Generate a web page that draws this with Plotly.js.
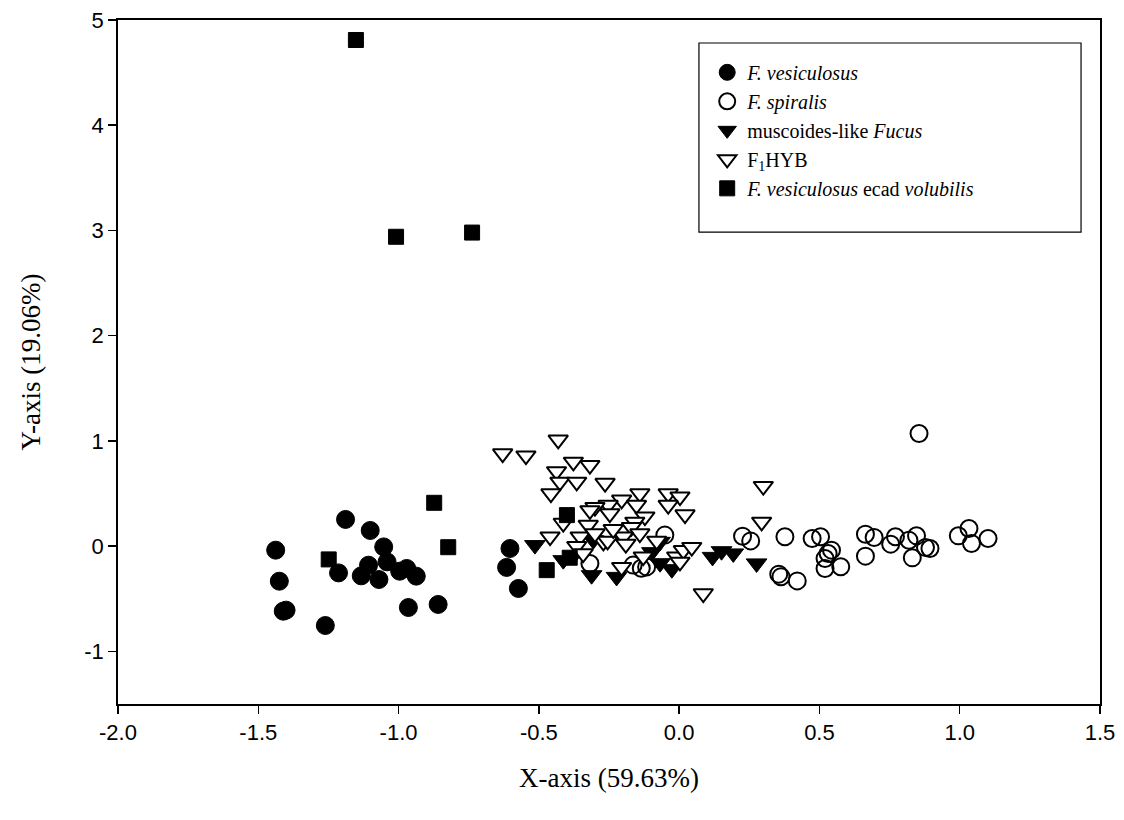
<!DOCTYPE html>
<html>
<head>
<meta charset="utf-8">
<script src="https://cdn.plot.ly/plotly-3.0.1.min.js"></script>
<style>html,body{margin:0;padding:0;background:#fff;}#chart{width:1124px;height:820px;}</style>
</head>
<body>
<div id="chart"></div>
<script>
// F. vesiculosus (filled circles)
const vesX = [-1.438,-1.425,-1.411,-1.401,-1.261,-1.189,-1.214,-1.101,-1.053,-1.041,-1.107,-1.133,-1.070,-0.996,-0.971,-0.937,-0.965,-0.859,-0.603,-0.615,-0.573];
const vesY = [-0.038,-0.333,-0.618,-0.608,-0.754,0.254,-0.254,0.149,-0.007,-0.149,-0.181,-0.282,-0.317,-0.238,-0.212,-0.285,-0.583,-0.554,-0.022,-0.202,-0.402];

// F. spiralis (open circles)
const spiX = [0.855,0.226,0.255,0.377,0.474,0.504,0.543,0.531,0.520,0.520,0.576,0.355,0.363,0.421,0.664,0.695,0.664,0.754,0.771,0.819,0.846,0.878,0.894,0.831,0.995,1.033,1.042,1.101,-0.051,-0.164,-0.116,-0.318,-0.135];
const spiY = [1.07,0.095,0.05,0.089,0.073,0.089,-0.038,-0.07,-0.117,-0.212,-0.196,-0.266,-0.29,-0.33,0.114,0.083,-0.095,0.019,0.089,0.057,0.098,-0.012,-0.022,-0.111,0.098,0.168,0.026,0.073,0.105,-0.18,-0.197,-0.165,-0.21];

// muscoides-like Fucus (filled down triangles)
const musX = [-0.514,-0.413,-0.378,-0.312,-0.223,-0.306,-0.068,-0.097,-0.068,-0.026,0.119,0.151,0.193,0.276];
const musY = [0.010,-0.133,-0.095,-0.276,-0.292,0.057,0.041,-0.057,-0.162,-0.219,-0.102,-0.048,-0.069,-0.164];

// F1HYB (open down triangles)
const hybX = [-0.431,-0.629,-0.546,-0.377,-0.318,-0.437,-0.425,-0.365,-0.457,-0.264,-0.14,-0.039,0.003,-0.205,-0.253,-0.152,-0.039,-0.247,-0.122,0.021,-0.158,-0.46,-0.413,-0.353,-0.365,-0.324,-0.30,-0.318,-0.17,-0.14,-0.199,-0.27,-0.342,-0.205,-0.128,-0.009,0.015,0.045,0.003,0.086,0.30,0.294,-0.255,-0.19,-0.235,-0.30,-0.08];
const hybY = [1.01,0.88,0.86,0.80,0.77,0.71,0.61,0.61,0.50,0.60,0.50,0.50,0.47,0.44,0.39,0.39,0.39,0.31,0.28,0.30,0.23,0.09,0.22,0.09,0.00,0.20,0.37,0.34,0.18,0.12,0.09,0.04,-0.07,-0.20,-0.10,-0.10,-0.04,-0.01,-0.15,-0.45,0.57,0.23,0.05,0.02,0.16,0.12,0.05];

// F. vesiculosus ecad volubilis (filled squares)
const volX = [-1.152,-1.009,-0.738,-1.249,-0.873,-0.823,-0.472,-0.400,-0.390];
const volY = [4.81,2.94,2.98,-0.126,0.412,-0.010,-0.228,0.295,-0.11];

const xTickVals = [-2.0,-1.5,-1.0,-0.5,0.0,0.5,1.0,1.5];
const xTickText = ["-2.0","-1.5","-1.0","-0.5","0.0","0.5","1.0","1.5"];
const yTickVals = [-1,0,1,2,3,4,5];
const yTickText = ["-1","0","1","2","3","4","5"];

const SERIF = "'Liberation Serif', 'Times New Roman', serif";
const SANS = "'Liberation Sans', Arial, sans-serif";

const traces = [
  {x: vesX, y: vesY, name: "<i>F. vesiculosus</i>", mode: "markers", type: "scatter",
   marker: {symbol: "circle", size: 18, color: "#000", line: {color: "#000", width: 1}}},
  {x: spiX, y: spiY, name: "<i>F. spiralis</i>", mode: "markers", type: "scatter",
   marker: {symbol: "circle-open", size: 17, color: "#000", line: {color: "#000", width: 2}}},
  {x: musX, y: musY, name: "muscoides-like <i>Fucus</i>", mode: "markers", type: "scatter",
   marker: {symbol: "triangle-down", size: 18, color: "#000", line: {color: "#000", width: 1}}},
  {x: hybX, y: hybY, name: "F<sub>1</sub>HYB", mode: "markers", type: "scatter",
   marker: {symbol: "triangle-down", size: 17, color: "#fff", line: {color: "#000", width: 2}}},
  {x: volX, y: volY, name: "<i>F. vesiculosus</i> ecad <i>volubilis</i>", mode: "markers", type: "scatter",
   marker: {symbol: "square", size: 15, color: "#000", line: {color: "#000", width: 1}}}
];

const layout = {
  width: 1124, height: 820,
  paper_bgcolor: "#fff", plot_bgcolor: "#fff",
  margin: {l: 118, r: 24, t: 20, b: 116},
  showlegend: true,
  legend: {
    x: 0.600, y: 0.952, xanchor: "left", yanchor: "top",
    borderwidth: 0, bgcolor: "rgba(0,0,0,0)",
    font: {family: SERIF, size: 20, color: "#000"},
    itemwidth: 30
  },
  shapes: [{
    type: "rect", xref: "paper", yref: "paper",
    x0: 0.5916, x1: 0.9807, y0: 0.690, y1: 0.9664,
    line: {color: "#000", width: 1.2}, fillcolor: "rgba(0,0,0,0)", layer: "below"
  }],
  xaxis: {
    range: [-2.0, 1.5], tickvals: xTickVals, ticktext: xTickText,
    showgrid: false, zeroline: false, showline: true, mirror: true,
    linecolor: "#000", linewidth: 1.8, ticks: "outside", ticklen: 8, tickwidth: 1.5, tickcolor: "#000",
    tickfont: {family: SANS, size: 22, color: "#000"},
    title: {text: "X-axis (59.63%)", standoff: 24,
      font: {family: SERIF, size: 27, color: "#000"}}
  },
  yaxis: {
    range: [-1.5, 5], tickvals: yTickVals, ticktext: yTickText,
    showgrid: false, zeroline: false, showline: true, mirror: true,
    linecolor: "#000", linewidth: 1.8, ticks: "outside", ticklen: 8, tickwidth: 1.5, tickcolor: "#000",
    tickfont: {family: SANS, size: 22, color: "#000"},
    title: {text: "Y-axis (19.06%)", standoff: 36,
      font: {family: SERIF, size: 27, color: "#000"}}
  }
};

Plotly.newPlot("chart", traces, layout, {displayModeBar: false, staticPlot: true});
</script>
</body>
</html>
